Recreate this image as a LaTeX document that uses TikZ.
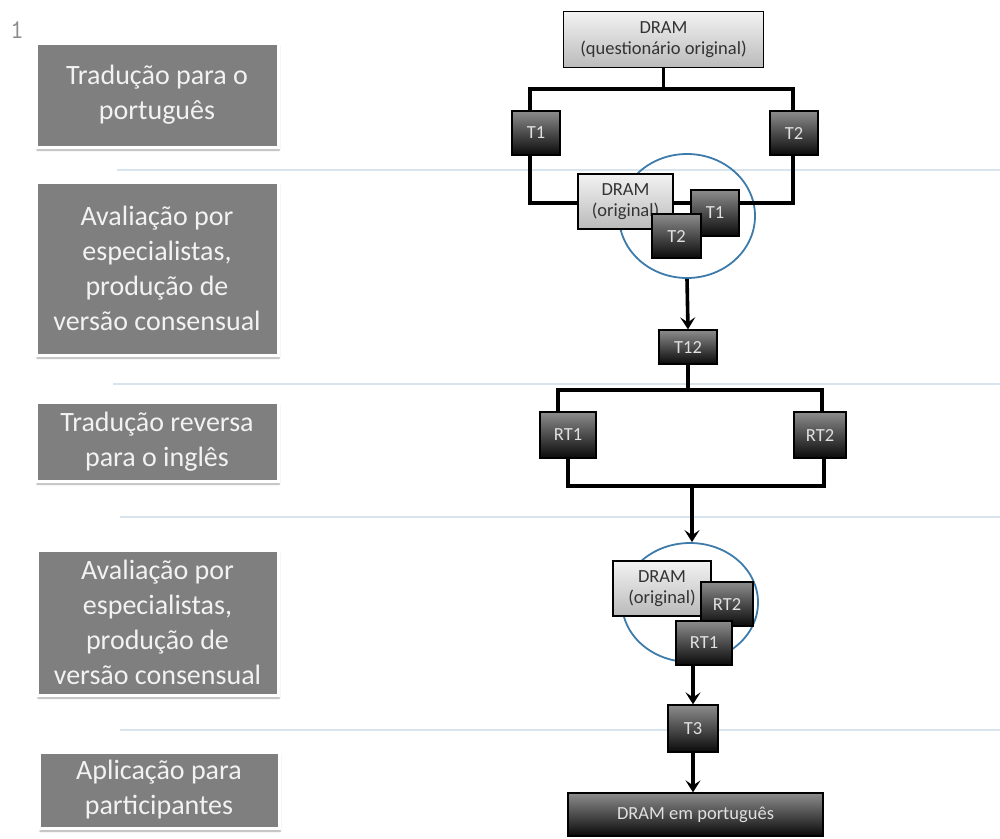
\documentclass[tikz,border=0pt]{standalone}
\usepackage{fontspec}
\setmainfont{Carlito}
\usetikzlibrary{shapes.geometric,shadows.blur,arrows.meta}
\definecolor{sepblue}{HTML}{D8E5EF}
\definecolor{circblue}{HTML}{3C7BAA}
\definecolor{stagegrey}{HTML}{7F7F7F}
\definecolor{stagetext}{HTML}{F2F2F2}
\pgfdeclarelayer{bg}
\pgfsetlayers{bg,main}
\begin{document}
\begin{tikzpicture}[x=1pt,y=-1pt,
  stagebox/.style={draw=white, line width=3pt, fill=stagegrey, text=stagetext,
    font=\fontsize{28}{35}\selectfont, align=center, inner sep=0pt,
    blur shadow={shadow xshift=1pt, shadow yshift=-3pt, shadow blur steps=6, shadow opacity=35}},
  lightbox/.style={draw=black, line width=1.3pt, top color=black!5, bottom color=black!27,
    text=black!80, align=center, inner sep=0pt, font=\fontsize{18.5}{21}\selectfont},
  darkbox/.style={draw=black, line width=1.3pt, top color=black!45, bottom color=black!96,
    text=white!88!black, align=center, inner sep=0pt, font=\fontsize{18.5}{21}\selectfont},
  ring/.style={ellipse, draw=circblue, line width=1.8pt, inner sep=0pt},
  sep/.style={draw=sepblue, line width=2.2pt},
  conn/.style={draw=black, line width=3.6pt},
  arr/.style={conn, -{Stealth[length=12pt,width=15pt,inset=5pt]}}
]
\useasboundingbox (0,0) rectangle (1000,838);

% left stage labels
\node[font=\ttfamily\fontsize{27}{27}\selectfont, text=black!45] (num) at (17,30) {1};
\node[stagebox, minimum width=242pt, minimum height=104pt] (s1) at (157,95) {Tradução para o\\português};
\node[stagebox, minimum width=242pt, minimum height=173pt] (s2) at (157,268.5) {Avaliação por\\especialistas,\\produção de\\versão consensual};
\node[stagebox, minimum width=242pt, minimum height=79pt] (s3) at (157,441.5) {Tradução reversa\\para o inglês};
\node[stagebox, minimum width=241pt, minimum height=145pt] (s4) at (157.5,622.5) {Avaliação por\\especialistas,\\produção de\\versão consensual};
\node[stagebox, minimum width=240pt, minimum height=76pt] (s5) at (159,790) {Aplicação para\\participantes};

% right flow
\node[lightbox, minimum width=200pt, minimum height=56pt] (dram0) at (663.5,39.5) {DRAM\\(questionário original)};
\node[darkbox, minimum width=48pt, minimum height=44pt] (t1) at (536,133) {T1};
\node[darkbox, minimum width=48pt, minimum height=44pt] (t2) at (794,133) {T2};

\node[lightbox, minimum width=95pt, minimum height=55pt] (dramo1) at (625.5,201.5) {DRAM\\(original)};
\node[darkbox, minimum width=48pt, minimum height=46pt] (t1b) at (715,213) {T1};
\node[darkbox, minimum width=49pt, minimum height=44pt] (t2b) at (676.5,236) {T2};

\node[darkbox, minimum width=58pt, minimum height=34pt] (t12) at (688,347) {T12};
\node[darkbox, minimum width=56pt, minimum height=46pt] (rt1) at (568,435) {RT1};
\node[darkbox, minimum width=52pt, minimum height=46pt] (rt2) at (820,435) {RT2};

\node[lightbox, minimum width=98pt, minimum height=55pt] (dramo2) at (662,588.5) {DRAM\\(original)};
\node[darkbox, minimum width=52pt, minimum height=44pt] (rt2b) at (727,604) {RT2};
\node[darkbox, minimum width=56pt, minimum height=44pt] (rt1b) at (704,643) {RT1};

\node[darkbox, minimum width=50pt, minimum height=47pt] (t3) at (693,728.5) {T3};
\node[darkbox, minimum width=255pt, minimum height=43pt] (final) at (695.5,814.5) {DRAM em português};

\begin{pgfonlayer}{bg}
  \draw[sep] (117,170) -- (1000,170);
  \draw[sep] (113,384) -- (1000,384);
  \draw[sep] (120,517) -- (1000,517);
  \draw[sep] (120,730) -- (1000,730);

  \node[ring, minimum width=136pt, minimum height=124pt] (c1) at (687,216) {};
  \node[ring, minimum width=136pt, minimum height=119pt] (c2) at (690,602.5) {};

  \coordinate (j1) at (663.5,89);
  \coordinate (j2) at (690,203);
  \coordinate (j3) at (688,390);
  \coordinate (j4) at (692,486);

  \draw[conn] (dram0.south) -- (j1);
  \draw[conn] ([xshift=-6pt]t1.north) |- (j1) -| ([xshift=-1pt]t2.north);
  \draw[conn] ([xshift=-6pt]t1.south) |- (j2) -| ([xshift=-1pt]t2.south);
  \draw[arr] (c1.south) -- (t12.north);
  \draw[conn] (t12.south) -- (j3);
  \draw[conn] ([xshift=-10pt]rt1.north) |- (j3) -| ([xshift=2pt]rt2.north);
  \draw[conn] (rt1.south) |- (j4) -| ([xshift=4pt]rt2.south);
  \draw[arr] (j4) -- (j4 |- c2.north);
  \draw[arr] ([xshift=-11pt]rt1b.south) -- (t3.north);
  \draw[arr] (t3.south) -- ([xshift=-2.5pt]final.north);
\end{pgfonlayer}
\end{tikzpicture}
\end{document}
